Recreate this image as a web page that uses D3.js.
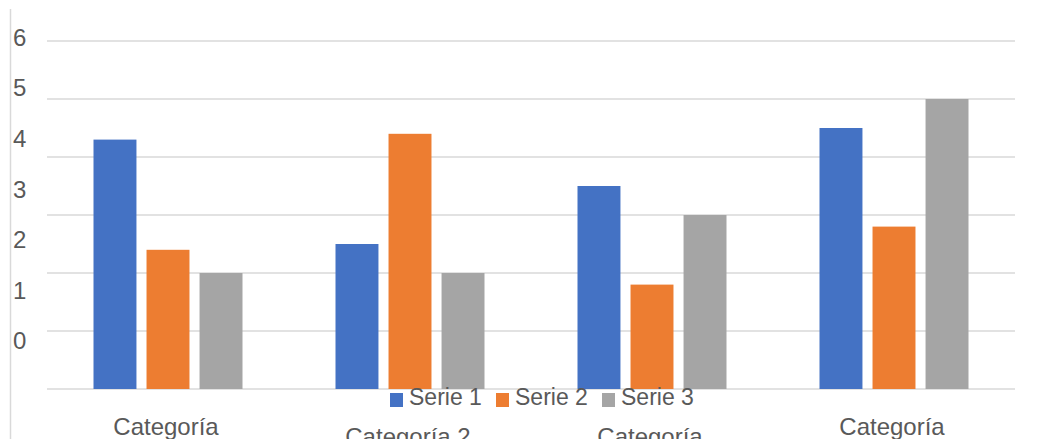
<!DOCTYPE html>
<html>
<head>
<meta charset="utf-8">
<script src="https://cdn.jsdelivr.net/npm/d3@7"></script>
<style>
  body { margin: 0; background: #fff; }
  svg { display: block; font-family: "Liberation Sans", Arial, sans-serif; }
</style>
</head>
<body>
<svg id="chart"></svg>
<script>
// Data
const categories = ["Categoría 1", "Categoría 2", "Categoría 3", "Categoría 4"];
const seriesNames = ["Serie 1", "Serie 2", "Serie 3"];
const serie1 = [4.3, 2.5, 3.5, 4.5];
const serie2 = [2.4, 4.4, 1.8, 2.8];
const serie3 = [2, 2, 3, 5];
const yTicks = [0, 1, 2, 3, 4, 5, 6];
// how the category labels wrap in the picture
const categoryLines = [["Categoría", "1"], ["Categoría 2"], ["Categoría", "3"], ["Categoría", "4"]];

const colors = ["#4472C4", "#ED7D31", "#A5A5A5"];
const textColor = "#595959";
const gridColor = "#d9d9d9";

const W = 1050, H = 439;
const plot = {left: 47, right: 1015, top: 41, bottom: 389};

const svg = d3.select("#chart")
  .attr("width", W)
  .attr("height", H);

const allSeries = [serie1, serie2, serie3];
const data = categories.map((c, i) => ({
  cat: c,
  values: seriesNames.map((s, j) => ({series: s, idx: j, value: allSeries[j][i]}))
}));

// Scales
const x0 = d3.scaleBand()
  .domain(categories)
  .range([plot.left, plot.right]);

const groupWidth = 149;
const x1 = d3.scaleBand()
  .domain(seriesNames)
  .range([x0.bandwidth() / 2 - groupWidth / 2, x0.bandwidth() / 2 + groupWidth / 2])
  .paddingInner(0.19);

const y = d3.scaleLinear()
  .domain([0, 6])
  .range([plot.bottom, plot.top]);

// the value labels sit off the gridlines in the original
const yLabel = d3.scaleLinear()
  .domain([0, 6])
  .range([341, 37.5]);

// left border line
svg.append("line")
  .attr("x1", 10.5).attr("x2", 10.5)
  .attr("y1", 9).attr("y2", H)
  .attr("stroke", gridColor)
  .attr("stroke-width", 1.5);

// Gridlines
svg.append("g")
  .selectAll("line")
  .data(yTicks)
  .join("line")
  .attr("x1", plot.left)
  .attr("x2", plot.right)
  .attr("y1", d => y(d))
  .attr("y2", d => y(d))
  .attr("stroke", gridColor)
  .attr("stroke-width", 1.5);

// Y labels
svg.append("g")
  .selectAll("text")
  .data(yTicks)
  .join("text")
  .attr("x", 13)
  .attr("y", d => yLabel(d))
  .attr("dy", "0.35em")
  .attr("fill", textColor)
  .style("font-size", "24px")
  .text(d => d);

// Bars
const groups = svg.append("g")
  .selectAll("g")
  .data(data)
  .join("g")
  .attr("transform", d => `translate(${x0(d.cat)},0)`);

groups.selectAll("rect")
  .data(d => d.values)
  .join("rect")
  .attr("x", d => x1(d.series))
  .attr("y", d => y(d.value))
  .attr("width", x1.bandwidth())
  .attr("height", d => y(0) - y(d.value))
  .attr("fill", d => colors[d.idx]);

// Category labels (staggered and clipped like the original)
const catLabels = svg.append("g")
  .selectAll("text")
  .data(categories)
  .join("text")
  .attr("x", d => x0(d) + x0.bandwidth() / 2 - 2)
  .attr("y", (d, i) => (i === 1 || i === 2) ? 445 : 435)
  .attr("text-anchor", "middle")
  .attr("fill", textColor)
  .style("font-size", "24px");

catLabels.selectAll("tspan")
  .data((d, i) => categoryLines[i])
  .join("tspan")
  .attr("x", function() { return d3.select(this.parentNode).attr("x"); })
  .attr("dy", (d, i) => i === 0 ? 0 : "1.15em")
  .text(d => d);

// Legend
const legend = svg.append("g")
  .attr("transform", "translate(390,0)");

const item = legend.selectAll("g")
  .data(seriesNames)
  .join("g")
  .attr("transform", (d, i) => `translate(${i * 106},0)`);

item.append("rect")
  .attr("x", 0)
  .attr("y", 393)
  .attr("width", 13)
  .attr("height", 14)
  .attr("fill", (d, i) => colors[i]);

item.append("text")
  .attr("x", 19)
  .attr("y", 405)
  .attr("fill", textColor)
  .style("font-size", "23px")
  .text(d => d);
</script>
</body>
</html>
